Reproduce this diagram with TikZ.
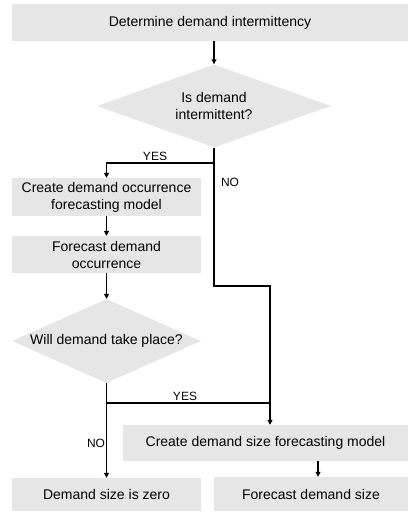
\documentclass[tikz,border=0pt]{standalone}
\usepackage{fontspec}
\setmainfont{Liberation Sans}
\usetikzlibrary{shapes.geometric,arrows.meta}
\definecolor{boxgray}{RGB}{230,230,230}
\tikzset{
  box/.style={fill=boxgray, inner sep=0pt, align=center, font=\fontsize{14bp}{17bp}\selectfont},
  dia/.style={shape=diamond, fill=boxgray, inner sep=0pt, aspect=1},
  txt/.style={align=center, font=\fontsize{14bp}{17bp}\selectfont},
  lbl/.style={font=\fontsize{12bp}{14bp}\selectfont, inner sep=1bp},
  conn/.style={line width=1.1bp, black},
  arr/.style={conn, -{Triangle[length=5bp,width=5bp]}}
}
\begin{document}
\begin{tikzpicture}[x=1bp,y=-1bp]
\useasboundingbox (0,0) rectangle (409,513);
% nodes
\node[box, minimum width=396bp, minimum height=37bp] (t) at (210,22.5) {Determine demand intermittency};
\node[dia, minimum width=234bp, minimum height=83bp] (d1) at (214,106) {};
\node[txt] at (d1) {Is demand\\intermittent?};
\node[box, minimum width=189bp, minimum height=38bp] (c1) at (106.5,197) {Create demand occurrence\\forecasting model};
\node[box, minimum width=189bp, minimum height=37bp] (f1) at (106.5,254.5) {Forecast demand\\occurrence};
\node[dia, minimum width=189bp, minimum height=84bp] (d2) at (106.5,341) {};
\node[txt] at (d2) {Will demand take place?};
\node[box, minimum width=285bp, minimum height=36bp] (cs) at (265.5,443) {Create demand size forecasting model};
\node[box, minimum width=189bp, minimum height=33bp] (z) at (106.5,494.5) {Demand size is zero};
\node[box, minimum width=194bp, minimum height=34bp] (fs) at (311,494) {Forecast demand size};
% junctions
\coordinate (j1) at (214,163);
\coordinate (k) at (270,286);
\coordinate (j2) at (106.5,403);
\coordinate (m) at (318,461);
% connectors
\draw[arr] (d1.north |- t.south) -- (d1.north);
\draw[conn] (d1.south) -- (j1);
\draw[arr] (j1) -| (c1.north);
\draw[arr] (j1) |- (k) -- (k |- cs.north);
\draw[arr] (c1.south) -- (f1.north);
\draw[arr] (f1.south) -- (d2.north);
\draw[arr] (d2.south) -- (z.north);
\draw[conn] (j2) -- (k |- j2);
\draw[arr] (m) -- (m |- fs.north);
% labels
\node[lbl] at (155,156) {YES};
\node[lbl] at (230,182) {NO};
\node[lbl] at (185,396) {YES};
\node[lbl] at (96,443) {NO};
\end{tikzpicture}
\end{document}
